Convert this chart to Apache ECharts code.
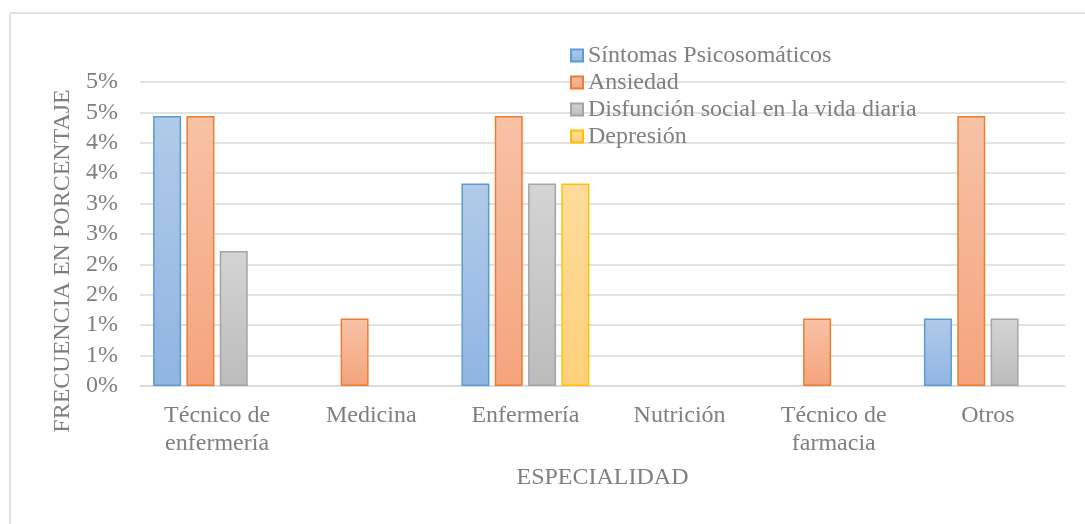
<!DOCTYPE html>
<html>
<head>
<meta charset="utf-8">
<script src="https://cdn.jsdelivr.net/npm/echarts@6/dist/echarts.min.js"></script>
<style>
  html, body { margin: 0; padding: 0; background: #fff; }
  #chart { width: 1085px; height: 524px; }
</style>
</head>
<body>
<div id="chart"></div>
<script>
const categories = [
  "Técnico de\nenfermería",
  "Medicina",
  "Enfermería",
  "Nutrición",
  "Técnico de\nfarmacia",
  "Otros",
];
const sintomas = [4.44, 0, 3.33, 0, 0, 1.11];
const ansiedad = [4.44, 1.11, 4.44, 0, 1.11, 4.44];
const disfuncion = [2.22, 0, 3.33, 0, 0, 1.11];
const depresion = [0, 0, 3.33, 0, 0, 0];
const yTickLabels = ["0%", "1%", "1%", "2%", "2%", "3%", "3%", "4%", "4%", "5%", "5%"];

const FONT = "'Liberation Serif', 'Times New Roman', serif";
const TEXT = "#7f7f7f";
const GRID_LINE = "#d9d9d9";
const FS = 24;

const grad = (top, bottom) =>
  new echarts.graphic.LinearGradient(0, 0, 0, 1, [
    { offset: 0, color: top },
    { offset: 1, color: bottom },
  ]);

// zero values are not drawn at all in the original (no outline on the axis)
const makeSeries = (name, data, top, bottom, border) => ({
  name: name,
  type: "bar",
  data: data.map((v) => (v === 0 ? null : v)),
  barWidth: 28,
  barGap: "19%",
  itemStyle: { color: grad(top, bottom), borderColor: border, borderWidth: 1.5 },
});

const chart = echarts.init(document.getElementById("chart"));

chart.setOption({
  animation: false,
  textStyle: { fontFamily: FONT, color: TEXT },
  graphic: [
    { type: "line", shape: { x1: 10, y1: 13, x2: 1085, y2: 13 }, style: { stroke: GRID_LINE, lineWidth: 1.5 } },
    { type: "line", shape: { x1: 10, y1: 13, x2: 10, y2: 524 }, style: { stroke: GRID_LINE, lineWidth: 1.5 } },
  ],
  legend: {
    orient: "vertical",
    left: 565,
    top: 37,
    itemWidth: 12,
    itemHeight: 12,
    itemGap: 0,
    icon: "rect",
    textStyle: { fontFamily: FONT, fontSize: FS, color: TEXT, lineHeight: 27 },
    data: ["Síntomas Psicosomáticos", "Ansiedad", "Disfunción social en la vida diaria", "Depresión"],
  },
  grid: { left: 140, right: 20, top: 82, bottom: 138 },
  xAxis: {
    type: "category",
    data: categories,
    name: "ESPECIALIDAD",
    nameLocation: "middle",
    nameGap: 80,
    nameTextStyle: { fontFamily: FONT, fontSize: FS, color: TEXT },
    axisLine: { lineStyle: { color: GRID_LINE, width: 1.5 } },
    axisTick: { show: false },
    axisLabel: { fontFamily: FONT, fontSize: FS, color: TEXT, lineHeight: 28, margin: 16, interval: 0 },
  },
  yAxis: {
    type: "value",
    min: 0,
    max: 5,
    interval: 0.5,
    name: "FRECUENCIA EN PORCENTAJE",
    nameLocation: "middle",
    nameGap: 62,
    nameTextStyle: { fontFamily: FONT, fontSize: FS, color: TEXT, padding: [0, 54, 0, 0] },
    axisLine: { show: false },
    axisTick: { show: false },
    axisLabel: {
      fontFamily: FONT,
      fontSize: FS,
      color: TEXT,
      margin: 22,
      formatter: (v) => yTickLabels[Math.round(v / 0.5)],
    },
    splitLine: { lineStyle: { color: GRID_LINE, width: 1.5 } },
  },
  series: [
    makeSeries("Síntomas Psicosomáticos", sintomas, "#b0cbe9", "#90b5e2", "#5b9bd5"),
    makeSeries("Ansiedad", ansiedad, "#f7c2a7", "#f5a47c", "#ed7d31"),
    makeSeries("Disfunción social en la vida diaria", disfuncion, "#d4d4d4", "#bcbcbc", "#a5a5a5"),
    makeSeries("Depresión", depresion, "#fedc9c", "#fed07a", "#ffc000"),
  ],
});
</script>
</body>
</html>
